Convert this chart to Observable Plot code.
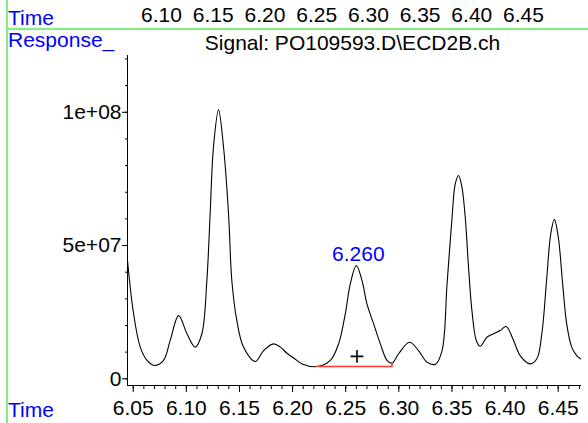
<!DOCTYPE html>
<html><head><meta charset="utf-8">
<script src="https://cdn.jsdelivr.net/npm/d3@7"></script>
<script src="https://cdn.jsdelivr.net/npm/@observablehq/plot@0.6"></script>
<style>
body{margin:0;background:#fff;}
#wrap{position:relative;width:588px;height:423px;overflow:hidden;font-family:"Liberation Sans",Arial,sans-serif;background:#fff;}
.lbl{position:absolute;font-size:21px;line-height:21px;white-space:nowrap;}
.blue{color:#0000ff;}
#vline{position:absolute;left:6px;top:0;width:1.5px;height:423px;background:#80f080;}
#hline{position:absolute;left:6px;top:28px;width:582px;height:1.5px;background:#80f080;}
.abs{position:absolute;left:0;}
</style></head><body>
<div id="wrap"></div>
<script>
// Chromatogram trace (retention time in min, response)
const times = [6.0446,6.0503,6.0566,6.063,6.0697,6.0785,6.0848,6.0927,6.1006,6.1083,6.1146,6.1193,6.1224,6.1255,6.1303,6.135,6.1397,6.1428,6.1475,6.1538,6.1648,6.1727,6.1821,6.1884,6.1947,6.201,6.209,6.223,6.2355,6.2433,6.2496,6.2543,6.26,6.2653,6.27,6.2763,6.2826,6.2889,6.2936,6.2998,6.31,6.3185,6.3266,6.3345,6.3407,6.3454,6.3501,6.3531,6.3562,6.3594,6.3625,6.3656,6.3688,6.3729,6.3766,6.3829,6.3892,6.3954,6.401,6.408,6.4142,6.4236,6.4299,6.4346,6.4393,6.443,6.4464,6.4501,6.4542,6.458,6.4627,6.4674,6.471];
const responses = [44.4e6,24.5e6,11.9e6,6.9e6,5.0e6,6.9e6,14.4e6,23.7e6,16.9e6,11.9e6,16.9e6,36.9e6,61.9e6,86.9e6,100.9e6,86.9e6,61.9e6,36.9e6,21.9e6,11.9e6,6.5e6,10.6e6,13.1e6,11.9e6,9.6e6,7.8e6,5.6e6,4.6e6,6.9e6,13.1e6,24.4e6,35.6e6,42.5e6,36.9e6,28.1e6,20.6e6,13.1e6,6.9e6,5.9e6,9.4e6,13.7e6,10.6e6,6.2e6,5.5e6,10.6e6,35.6e6,60.6e6,73.1e6,76.3e6,71.9e6,60.6e6,41.9e6,25.6e6,14.4e6,12.2e6,15.6e6,16.9e6,18.1e6,19.6e6,14.4e6,8.7e6,5.6e6,7.5e6,16.9e6,38.1e6,54.4e6,59.8e6,53.1e6,35.6e6,20.6e6,11.9e6,8.7e6,7.5e6];

// integration baseline of the labelled peak
const baseTimes = [6.223, 6.2936, 6.2936];
const baseResponses = [4.6e6, 4.6e6, 5.9e6];

// labelled peak
const peakTimes = [6.26];
const peakResponses = [42.5e6];
const peakLabels = ["6.260"];
const plusTimes = [6.2606];
const plusResponses = [8.4e6];

// axes
const xDomain = [6.0446, 6.471];
const yDomain = [-2.51e6, 121.3e6];
const xTicks = [6.05,6.10,6.15,6.20,6.25,6.30,6.35,6.40,6.45];
const xMinorTicks = d3.range(6.05, 6.4705, 0.01).map(d => +d.toFixed(2));
const yTicks = [0, 5e7, 1e8];
const yMinorTicks = d3.range(0, 1.21e8, 1e7);
const topTicks = [6.10,6.15,6.20,6.25,6.30,6.35,6.40,6.45];
const topDomain = [6.0671, 6.5051];

const title = "Signal: PO109593.D\\ECD2B.ch";

const font = "Liberation Sans, Arial, sans-serif";
const fmtY = d => d === 0 ? "0" : d.toExponential().replace(/e([+-])(\d)$/, "e$10$2");

const trace = times.map((t, i) => ({t, v: responses[i]}));
const base = baseTimes.map((t, i) => ({t, v: baseResponses[i]}));
const peaks = peakTimes.map((t, i) => ({t, v: peakResponses[i], label: peakLabels[i]}));
const pluses = plusTimes.map((t, i) => ({t, v: plusResponses[i]}));

const wrap = document.getElementById("wrap");

const main = Plot.plot({
  width: 588, height: 423,
  marginTop: 55, marginBottom: 38, marginLeft: 127, marginRight: 8,
  style: {background: "transparent", fontFamily: font, fontSize: "21px", color: "black", overflow: "visible"},
  x: {domain: xDomain},
  y: {domain: yDomain},
  marks: [
    Plot.axisY(yTicks, {tickSize: 5, tickPadding: 1, tickFormat: fmtY, label: null, fontSize: 21}),
    Plot.axisY(yMinorTicks, {tickSize: 2, tickFormat: () => "", label: null}),
    Plot.axisX(xTicks, {tickSize: 7, tickPadding: 8, tickFormat: d3.format(".2f"), label: null, fontSize: 21}),
    Plot.axisX(xMinorTicks, {tickSize: 4, tickFormat: () => "", label: null}),
    Plot.frame({anchor: "left"}),
    Plot.frame({anchor: "bottom"}),
    Plot.line(trace, {x: "t", y: "v", curve: "catmull-rom", stroke: "black", strokeWidth: 1.1}),
    Plot.line(base, {x: "t", y: "v", stroke: "#ff3b3b", strokeWidth: 1.5}),
    Plot.dot(pluses, {x: "t", y: "v", symbol: "plus", r: 4.2, stroke: "black", strokeWidth: 1.6}),
    Plot.text(peaks, {x: "t", y: "v", text: "label", fill: "#0000ff", dx: 2, dy: -5, lineAnchor: "bottom", fontSize: 21})
  ]
});
main.classList.add("abs");
main.style.top = "0px";
wrap.appendChild(main);

const topStrip = Plot.plot({
  width: 588, height: 30,
  marginTop: 21, marginBottom: 8, marginLeft: 127, marginRight: 8,
  style: {background: "transparent", fontFamily: font, fontSize: "21px", color: "black", overflow: "visible"},
  x: {domain: topDomain},
  marks: [
    Plot.axisX(topTicks, {anchor: "top", tickSize: 0, tickPadding: 0, tickFormat: d3.format(".2f"), label: null, fontSize: 21})
  ]
});
topStrip.classList.add("abs");
topStrip.style.top = "0px";
wrap.appendChild(topStrip);

function addLabel(text, cls, left, top, center) {
  const d = document.createElement("div");
  d.className = "lbl " + cls;
  d.textContent = text;
  d.style.top = top + "px";
  d.style.left = left + "px";
  if (center) d.style.transform = "translateX(-50%)";
  wrap.appendChild(d);
}
const v = document.createElement("div"); v.id = "vline"; wrap.appendChild(v);
const h = document.createElement("div"); h.id = "hline"; wrap.appendChild(h);
addLabel("Time", "blue", 8, 7.2);
addLabel("Response_", "blue", 8, 29.2);
addLabel(title, "", 352.5, 32.2, true);
addLabel("Time", "blue", 8, 399.2);
</script>
</body></html>
